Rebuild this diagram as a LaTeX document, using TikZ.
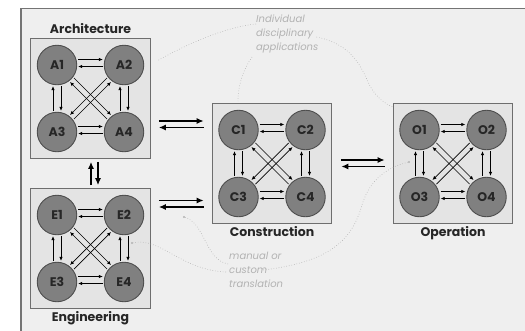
\documentclass[tikz,border=0pt]{standalone}
\usepackage{fontspec}
\setmainfont{Poppins}
\usepackage{tikz}
\usetikzlibrary{
  calc,
  fit,
  positioning,
  arrows.meta
}
\pgfdeclarelayer{frame}
\pgfdeclarelayer{back}
\pgfsetlayers{frame,back,main}

\definecolor{bgfill}{HTML}{EFEFEF}
\definecolor{boxfill}{HTML}{E4E4E4}
\definecolor{boxline}{HTML}{6E6E6E}
\definecolor{circfill}{HTML}{808080}
\definecolor{circline}{HTML}{4E4E4E}
\definecolor{frameline}{HTML}{747474}
\definecolor{notegray}{HTML}{B2B2B2}

\tikzset{
  member/.style={circle, draw=circline, fill=circfill, line width=0.9pt,
    minimum size=39.5pt, inner sep=0pt, text=black!85,
    font=\bfseries\fontsize{12.5}{14}\selectfont},
  groupbox/.style={draw=boxline, fill=boxfill, line width=1.2pt, inner sep=6pt},
  grouplabel/.style={font=\bfseries\fontsize{12.5}{14}\selectfont, text=black!85,
    inner sep=1pt},
  link/.style={-{Latex[length=4pt,width=3.6pt]}, line width=0.7pt,
    shorten >=1pt, shorten <=1pt},
  flow/.style={-{Latex[length=7pt,width=6pt]}, line width=1.6pt},
  note/.style={font=\itshape\fontsize{10}{14}\selectfont, text=notegray,
    align=left, inner sep=2pt},
  lead/.style={dotted, draw=notegray, line width=0.6pt}
}

\begin{document}
\begin{tikzpicture}[x=1pt,y=-1pt]
                \useasboundingbox (0,0) rectangle (525,330);
                \begin{pgfonlayer}{frame}
                  \fill[white] (0,0) rectangle (525,330);
                  \draw[frameline, line width=1.6pt, fill=bgfill] (21,8.5) rectangle (560,360);
                \end{pgfonlayer}

                % Architecture
                \begin{scope}[shift={(57,65)}]
                  \node[member] (a1) at (0,0) {A1};
                  \node[member] (a2) at (67,0) {A2};
                  \node[member] (a3) at (0,67) {A3};
                  \node[member] (a4) at (67,67) {A4};
                  \begin{pgfonlayer}{back}
                    \node[groupbox, fit=(a1)(a4)] (abox) {};
                  \end{pgfonlayer}
                  \node[grouplabel, above=3pt of abox] {Architecture};

                  \draw[link] ([yshift=5.5pt]a1.east) -- ([yshift=5.5pt]a2.west);
                  \draw[link] ([yshift=-1.5pt]a2.west) -- ([yshift=-1.5pt]a1.east);
                  \draw[link] ([yshift=5.5pt]a3.east) -- ([yshift=5.5pt]a4.west);
                  \draw[link] ([yshift=-1.5pt]a4.west) -- ([yshift=-1.5pt]a3.east);
                  \draw[link] ([xshift=-4pt]a3.north) -- ([xshift=-4pt]a1.south);
                  \draw[link] ([xshift=4pt]a1.south) -- ([xshift=4pt]a3.north);
                  \draw[link] ([xshift=-4pt]a4.north) -- ([xshift=-4pt]a2.south);
                  \draw[link] ([xshift=4pt]a2.south) -- ([xshift=4pt]a4.north);
                  \draw[link] ([shift={(2,-2)}]a1.south east) -- ([shift={(2,-2)}]a4.north west);
                  \draw[link] ([shift={(-2,2)}]a4.north west) -- ([shift={(-2,2)}]a1.south east);
                  \draw[link] ([shift={(2,2)}]a3.north east) -- ([shift={(2,2)}]a2.south west);
                  \draw[link] ([shift={(-2,-2)}]a2.south west) -- ([shift={(-2,-2)}]a3.north east);
                \end{scope}

                % Engineering
                \begin{scope}[shift={(57,215)}]
                  \node[member] (e1) at (0,0) {E1};
                  \node[member] (e2) at (67,0) {E2};
                  \node[member] (e3) at (0,67) {E3};
                  \node[member] (e4) at (67,67) {E4};
                  \begin{pgfonlayer}{back}
                    \node[groupbox, fit=(e1)(e4)] (ebox) {};
                  \end{pgfonlayer}
                  \node[grouplabel, below=1pt of ebox] {Engineering};

                  \draw[link] ([yshift=5.5pt]e1.east) -- ([yshift=5.5pt]e2.west);
                  \draw[link] ([yshift=-1.5pt]e2.west) -- ([yshift=-1.5pt]e1.east);
                  \draw[link] ([yshift=5.5pt]e3.east) -- ([yshift=5.5pt]e4.west);
                  \draw[link] ([yshift=-1.5pt]e4.west) -- ([yshift=-1.5pt]e3.east);
                  \draw[link] ([xshift=-4pt]e3.north) -- ([xshift=-4pt]e1.south);
                  \draw[link] ([xshift=4pt]e1.south) -- ([xshift=4pt]e3.north);
                  \draw[link] ([xshift=-4pt]e4.north) -- ([xshift=-4pt]e2.south);
                  \draw[link] ([xshift=4pt]e2.south) -- ([xshift=4pt]e4.north);
                  \draw[link] ([shift={(2,-2)}]e1.south east) -- ([shift={(2,-2)}]e4.north west);
                  \draw[link] ([shift={(-2,2)}]e4.north west) -- ([shift={(-2,2)}]e1.south east);
                  \draw[link] ([shift={(2,2)}]e3.north east) -- ([shift={(2,2)}]e2.south west);
                  \draw[link] ([shift={(-2,-2)}]e2.south west) -- ([shift={(-2,-2)}]e3.north east);
                \end{scope}

                % Construction
                \begin{scope}[shift={(238.5,130)}]
                  \node[member] (c1) at (0,0) {C1};
                  \node[member] (c2) at (67,0) {C2};
                  \node[member] (c3) at (0,67) {C3};
                  \node[member] (c4) at (67,67) {C4};
                  \begin{pgfonlayer}{back}
                    \node[groupbox, fit=(c1)(c4)] (cbox) {};
                  \end{pgfonlayer}
                  \node[grouplabel, below=1pt of cbox] {Construction};

                  \draw[link] ([yshift=5.5pt]c1.east) -- ([yshift=5.5pt]c2.west);
                  \draw[link] ([yshift=-1.5pt]c2.west) -- ([yshift=-1.5pt]c1.east);
                  \draw[link] ([yshift=5.5pt]c3.east) -- ([yshift=5.5pt]c4.west);
                  \draw[link] ([yshift=-1.5pt]c4.west) -- ([yshift=-1.5pt]c3.east);
                  \draw[link] ([xshift=-4pt]c3.north) -- ([xshift=-4pt]c1.south);
                  \draw[link] ([xshift=4pt]c1.south) -- ([xshift=4pt]c3.north);
                  \draw[link] ([xshift=-4pt]c4.north) -- ([xshift=-4pt]c2.south);
                  \draw[link] ([xshift=4pt]c2.south) -- ([xshift=4pt]c4.north);
                  \draw[link] ([shift={(2,-2)}]c1.south east) -- ([shift={(2,-2)}]c4.north west);
                  \draw[link] ([shift={(-2,2)}]c4.north west) -- ([shift={(-2,2)}]c1.south east);
                  \draw[link] ([shift={(2,2)}]c3.north east) -- ([shift={(2,2)}]c2.south west);
                  \draw[link] ([shift={(-2,-2)}]c2.south west) -- ([shift={(-2,-2)}]c3.north east);
                \end{scope}

                % Operation
                \begin{scope}[shift={(419.5,130)}]
                  \node[member] (o1) at (0,0) {O1};
                  \node[member] (o2) at (67,0) {O2};
                  \node[member] (o3) at (0,67) {O3};
                  \node[member] (o4) at (67,67) {O4};
                  \begin{pgfonlayer}{back}
                    \node[groupbox, fit=(o1)(o4)] (obox) {};
                  \end{pgfonlayer}
                  \node[grouplabel, below=1pt of obox] {Operation};

                  \draw[link] ([yshift=5.5pt]o1.east) -- ([yshift=5.5pt]o2.west);
                  \draw[link] ([yshift=-1.5pt]o2.west) -- ([yshift=-1.5pt]o1.east);
                  \draw[link] ([yshift=5.5pt]o3.east) -- ([yshift=5.5pt]o4.west);
                  \draw[link] ([yshift=-1.5pt]o4.west) -- ([yshift=-1.5pt]o3.east);
                  \draw[link] ([xshift=-4pt]o3.north) -- ([xshift=-4pt]o1.south);
                  \draw[link] ([xshift=4pt]o1.south) -- ([xshift=4pt]o3.north);
                  \draw[link] ([xshift=-4pt]o4.north) -- ([xshift=-4pt]o2.south);
                  \draw[link] ([xshift=4pt]o2.south) -- ([xshift=4pt]o4.north);
                  \draw[link] ([shift={(2,-2)}]o1.south east) -- ([shift={(2,-2)}]o4.north west);
                  \draw[link] ([shift={(-2,2)}]o4.north west) -- ([shift={(-2,2)}]o1.south east);
                  \draw[link] ([shift={(2,2)}]o3.north east) -- ([shift={(2,2)}]o2.south west);
                  \draw[link] ([shift={(-2,-2)}]o2.south west) -- ([shift={(-2,-2)}]o3.north east);
                \end{scope}

                % exchange between the groups
                \draw[flow] ($(abox.east |- 0,121)+(8,0)$) -- ($(cbox.west |- 0,121)+(-8,0)$);
                \draw[flow] ($(cbox.west |- 0,127.5)+(-8,0)$) -- ($(abox.east |- 0,127.5)+(8,0)$);
                \draw[flow] ($(ebox.east |- 0,200.5)+(8,0)$) -- ($(cbox.west |- 0,200.5)+(-8,0)$);
                \draw[flow] ($(cbox.west |- 0,207)+(-8,0)$) -- ($(ebox.east |- 0,207)+(8,0)$);
                \draw[flow] ($(cbox.east |- 0,160)+(9,0)$) -- ($(obox.west |- 0,160)+(-8,0)$);
                \draw[flow] ($(obox.west |- 0,166.5)+(-8,0)$) -- ($(cbox.east |- 0,166.5)+(9,0)$);
                \draw[flow] ($(ebox.north -| 91,0)+(0,-3)$) -- ($(abox.south -| 91,0)+(0,3)$);
                \draw[flow] ($(abox.south -| 98,0)+(0,3)$) -- ($(ebox.north -| 98,0)+(0,-3)$);

                % notes
                \node[note, anchor=north west] (apps) at (254,13) {Individual\\disciplinary\\applications};
                \node[note, anchor=north west] (trans) at (227,250) {manual or\\custom\\translation};

                \coordinate (toA) at (157,61);
                \coordinate (toC) at (238,101);
                \coordinate (toO) at (393,107);
                \coordinate (dotEC) at (184,217);
                \coordinate (dotE) at (132,243);
                \coordinate (dotO) at (409,162);

                \draw[lead] ([shift={(2,11)}]apps.north west) .. controls (225,27) and (185,45) .. (toA);
                \draw[lead] ([shift={(-2,44)}]apps.north west) .. controls (243,70) and (238,85) .. (toC);
                \draw[lead] ([shift={(-4,24)}]apps.north east) .. controls (355,45) and (362,70) .. (370,86)
                  .. controls (376,97) and (385,104) .. (toO);
                \draw[lead] ([shift={(1,14)}]trans.north west) .. controls (205,260) and (205,222) .. (dotEC);
                \draw[lead] ([shift={(-1,22)}]trans.north west) .. controls (180,270) and (160,236) .. (dotE);
                \draw[lead] ([shift={(-22,20)}]trans.north east) .. controls (330,262) and (352,240) .. (362,205)
                  .. controls (370,178) and (390,166) .. (dotO);
                \fill[notegray] (dotEC) circle (1.2pt);
                \fill[notegray] (dotE) circle (1.2pt);
                \fill[notegray] (dotO) circle (1.2pt);
              \end{tikzpicture}
\end{document}
